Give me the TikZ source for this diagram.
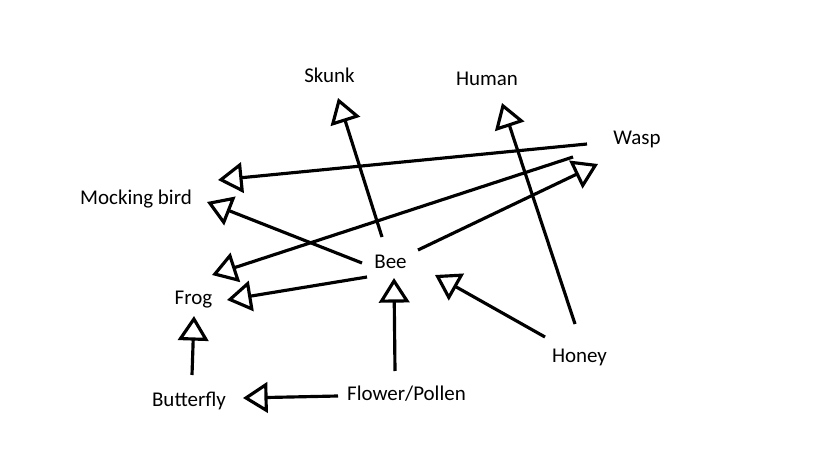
\documentclass[tikz,border=0pt]{standalone}
\usepackage{fontspec}
\setmainfont{Carlito}
\usetikzlibrary{arrows.meta}
\begin{document}
\begin{tikzpicture}[x=0.03cm, y=-0.03cm,
    lbl/.style={anchor=base, inner sep=0pt, font=\fontsize{17.9}{20}\selectfont},
    arr/.style={line width=2.7pt, -{Triangle[open, length=21pt, width=26pt, line join=miter]}}]
    \useasboundingbox (0,0) rectangle (819,460);

    % Labels
    \node[lbl] (skunk) at (329.5,83) {Skunk};
    \node[lbl] (human) at (487,86) {Human};
    \node[lbl] (wasp) at (637,145) {Wasp};
    \node[lbl] (mock) at (136,205) {Mocking bird};
    \node[lbl] (bee) at (390.5,268) {Bee};
    \node[lbl] (frog) at (193.5,304) {Frog};
    \node[lbl] (honey) at (579.5,362) {Honey};
    \node[lbl] (butterfly) at (189,406) {Butterfly};
    \node[lbl] (flower) at (406.5,400) {Flower/Pollen};

    % Who eats whom
    \draw[arr] ([shift={(-8.5,-31)}]bee.base) -- ([shift={(8.5,15)}]skunk.base);
    \draw[arr] ([shift={(-4.5,-38)}]honey.base) -- ([shift={(15,17)}]human.base);
    \draw[arr] ([shift={(-50,-1)}]wasp.base) -- ([shift={(82,-25)}]mock.base);
    \draw[arr] ([shift={(-64,12)}]wasp.base) -- ([shift={(18.5,-29)}]frog.base);
    \draw[arr] ([shift={(27.5,-18)}]bee.base) -- ([shift={(-39,19)}]wasp.base);
    \draw[arr] ([shift={(-28.5,-5)}]bee.base) -- ([shift={(71,-3)}]mock.base);
    \draw[arr] ([shift={(-23.5,9)}]bee.base) -- ([shift={(33.5,-4)}]frog.base);
    \draw[arr] ([shift={(3,-31)}]butterfly.base) -- ([shift={(0.5,12)}]frog.base);
    \draw[arr] ([shift={(-11.5,-29)}]flower.base) -- ([shift={(3.5,10)}]bee.base);
    \draw[arr] ([shift={(-68.5,-4)}]flower.base) -- ([shift={(54,-8)}]butterfly.base);
    \draw[arr] ([shift={(-34.5,-25)}]honey.base) -- ([shift={(44.5,7)}]bee.base);
\end{tikzpicture}
\end{document}
